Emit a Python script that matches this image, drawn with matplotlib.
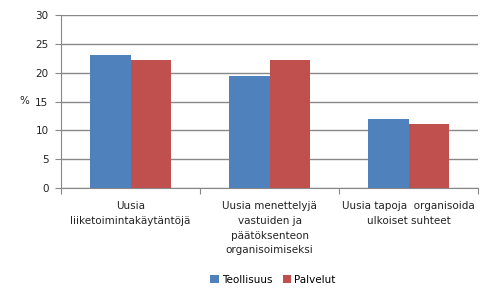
import matplotlib
matplotlib.use("Agg")
import matplotlib.pyplot as plt
import numpy as np

categories = ["Uusia\nliiketoimintakäytäntöjä",
              "Uusia menettelyjä\nvastuiden ja\npäätöksenteon\norganisoimiseksi",
              "Uusia tapoja  organisoida\nulkoiset suhteet"]
series_names = ["Teollisuus", "Palvelut"]
teollisuus = [23.1, 19.5, 12.0]
palvelut = [22.2, 22.2, 11.1]
yticks = [0, 5, 10, 15, 20, 25, 30]

colors = ["#4F81BD", "#C0504D"]

fig = plt.figure(figsize=(4.93, 3.04), dpi=100)
ax = fig.add_axes([61/493, 1-188/304, (478-61)/493, (188-15)/304])

x = np.arange(len(categories))
w = 0.288
ax.bar(x - w/2, teollisuus, w, color=colors[0], label=series_names[0], zorder=3)
ax.bar(x + w/2, palvelut, w, color=colors[1], label=series_names[1], zorder=3)

ax.set_xlim(-0.5, 2.5)
ax.set_ylim(0, 30)
ax.set_yticks(yticks)
ax.set_yticklabels([str(t) for t in yticks], fontsize=7.5, color="#222222")
ax.yaxis.grid(True, color="#888888", linewidth=1, zorder=0)
ax.set_axisbelow(True)

ax.set_xticks([-0.5, 0.5, 1.5, 2.5])
ax.set_xticklabels([])
ax.tick_params(axis="x", length=4, direction="out", color="#888888")
ax.tick_params(axis="y", length=4, direction="out", color="#888888", pad=5)

for s in ["top", "right"]:
    ax.spines[s].set_visible(False)
for s in ["left", "bottom"]:
    ax.spines[s].set_color("#888888")

for i, c in enumerate(categories):
    ax.text(i, -0.075, c, transform=ax.get_xaxis_transform(), ha="center", va="top",
            fontsize=7.5, linespacing=1.6, color="#222222")

ax.text(-0.087, 0.5, "%", transform=ax.transAxes, ha="center", va="center",
        fontsize=7.5, color="#222222")

fig.legend(loc="center", bbox_to_anchor=(273/493, 1-280/304), ncol=2, frameon=False,
           fontsize=7.5, handlelength=0.8, handleheight=0.8, handletextpad=0.3, columnspacing=1.0)

fig.savefig("out.png", dpi=100)
